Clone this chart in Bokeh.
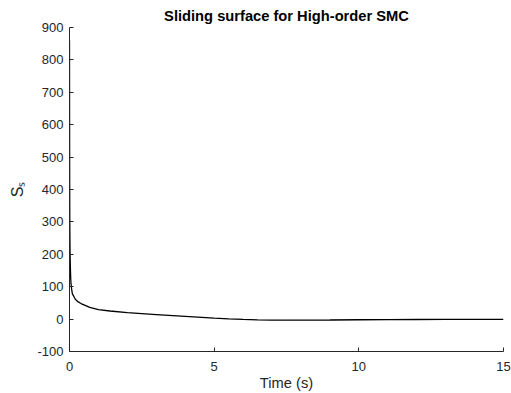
from bokeh.plotting import figure
from bokeh.models import Range1d, FixedTicker
from bokeh.embed import file_html
from bokeh.resources import INLINE

# Data
time_s = [0, 0.003, 0.006, 0.01, 0.015, 0.02, 0.03, 0.04, 0.05, 0.07, 0.1, 0.15,
          0.2, 0.3, 0.4, 0.5, 0.7, 1.0, 1.4, 2.0, 2.5, 3.0, 4.0, 5.0, 5.5, 6.0,
          6.5, 7.0, 7.5, 8.0, 9.0, 10.0, 11.0, 12.0, 13.0, 14.0, 15.0]
surface = [860, 600, 420, 300, 240, 200, 160, 130, 112, 95, 78, 70,
           61, 53, 48, 44, 36, 29, 25, 20, 17, 14, 8.5, 3, 0.8, -1,
           -2.3, -3, -3.3, -3.3, -2.8, -2.0, -1.5, -1.2, -1.0, -0.8, -0.6]

x_ticks = [0, 5, 10, 15]
x_tick_labels = ["0", "5", "10", "15"]
y_ticks = [-100, 0, 100, 200, 300, 400, 500, 600, 700, 800, 900]
y_tick_labels = ["-100", "0", "100", "200", "300", "400", "500", "600", "700", "800", "900"]

title_text = "Sliding surface for High-order SMC"
x_label = "Time (s)"
y_label = "S\u209b"

FONT = "Liberation Sans"
AX = "#262626"

p = figure(width=511, height=393, output_backend="svg", toolbar_location=None,
           x_range=Range1d(0, 15), y_range=Range1d(-100, 900),
           min_border_left=69, min_border_right=8, min_border_top=27,
           min_border_bottom=41, title=title_text)

p.background_fill_color = "white"
p.border_fill_color = "white"
p.outline_line_color = None
p.xgrid.visible = False
p.ygrid.visible = False

p.title.text_font = FONT
p.title.text_font_size = "14.7px"
p.title.text_font_style = "bold"
p.title.text_color = "black"
p.title.align = "center"
p.title.standoff = 8

p.line(time_s, surface, line_color="black", line_width=1.3)

for ax, ticks, labels in [(p.xaxis[0], x_ticks, x_tick_labels),
                          (p.yaxis[0], y_ticks, y_tick_labels)]:
    ax.ticker = FixedTicker(ticks=ticks)
    ax.major_label_overrides = {t: l for t, l in zip(ticks, labels)}
    ax.axis_line_color = AX
    ax.axis_line_width = 1
    ax.major_tick_line_color = AX
    ax.major_tick_in = 4
    ax.major_tick_out = 0
    ax.minor_tick_line_color = None
    ax.major_label_text_font = FONT
    ax.major_label_text_font_size = "13px"
    ax.major_label_text_color = AX
    ax.axis_label_text_font = FONT
    ax.axis_label_text_font_size = "14.7px"
    ax.axis_label_text_font_style = "normal"
    ax.axis_label_text_color = AX

p.xaxis.axis_label = x_label
p.yaxis.axis_label = y_label
p.yaxis.axis_label_text_font_size = "16px"
p.xaxis.major_label_standoff = 10
p.xaxis.axis_label_standoff = 1
p.yaxis.major_label_standoff = 6
p.yaxis.axis_label_standoff = 8

open("out.html", "w").write(file_html(p, INLINE))
